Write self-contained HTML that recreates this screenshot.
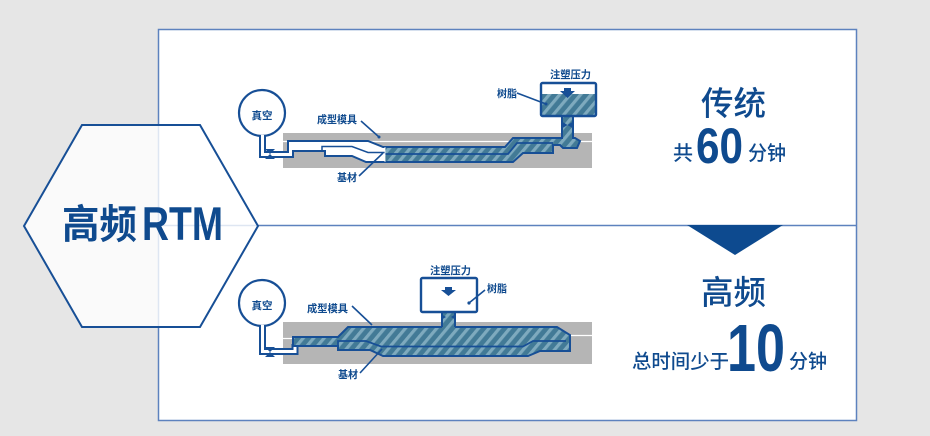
<!DOCTYPE html>
<html>
<head>
<meta charset="utf-8">
<style>
html,body{margin:0;padding:0;background:#e6e6e6;}
svg{display:block;}
text{font-family:"Liberation Sans","Noto Sans CJK SC",sans-serif;fill:#0f4a8e;}
.cj{font-family:"Noto Sans CJK SC","WenQuanYi Zen Hei",sans-serif;}
.lb{font-size:10.5px;font-weight:bold;}
</style>
</head>
<body>
<svg width="930" height="436" viewBox="0 0 930 436" xmlns="http://www.w3.org/2000/svg">
<defs>
  <pattern id="h" width="8" height="8" patternUnits="userSpaceOnUse" patternTransform="rotate(40)">
    <rect width="8" height="8" fill="#427a96"/>
    <rect x="0" width="3.2" height="8" fill="#7eaabe"/>
  </pattern>
  <clipPath id="c1"><polygon points="288,141 368,141 383,147 505,147 513,138 575,138 580,141 577,148 563,148 560,145 553,145 553,153 523,153 513,162 366,162 352,156 325,156 325,151 288,151"/></clipPath>
</defs>

<rect width="930" height="436" fill="#e6e6e6"/>
<!-- main box -->
<rect x="158.5" y="29.5" width="698" height="391" fill="#ffffff" stroke="#5d82be" stroke-width="1.5"/>
<line x1="158" y1="225.5" x2="857" y2="225.5" stroke="#5d82be" stroke-width="1.5"/>

<!-- triangle -->
<polygon points="687,225 783,225 735,255" fill="#0d4a8f"/>

<!-- hexagon -->
<polygon points="82,125 200,125 258,226 200,327 82,327 24,226" fill="rgba(255,255,255,0.8)" stroke="#174f96" stroke-width="2"/>
<text x="62" y="238" class="cj" font-size="40" font-weight="bold" textLength="75" lengthAdjust="spacingAndGlyphs">高频</text>
<text x="142" y="240" font-size="47" font-weight="bold" textLength="81" lengthAdjust="spacingAndGlyphs">RTM</text>

<!-- right texts top -->
<text x="701" y="115" class="cj" font-size="33" font-weight="500" textLength="65" lengthAdjust="spacingAndGlyphs">传统</text>
<text x="673" y="160" class="cj" font-size="20" font-weight="500">共</text>
<text x="696" y="163" font-size="50" font-weight="bold" textLength="47" lengthAdjust="spacingAndGlyphs">60</text>
<text x="748" y="160" class="cj" font-size="20" font-weight="500" textLength="38" lengthAdjust="spacingAndGlyphs">分钟</text>

<!-- right texts bottom -->
<text x="701" y="304" class="cj" font-size="33" font-weight="500" textLength="65" lengthAdjust="spacingAndGlyphs">高频</text>
<text x="632" y="368" class="cj" font-size="19.5" font-weight="500" textLength="97" lengthAdjust="spacingAndGlyphs">总时间少于</text>
<text x="727" y="371" font-size="67" font-weight="bold" textLength="58" lengthAdjust="spacingAndGlyphs">10</text>
<text x="789" y="368" class="cj" font-size="19.5" font-weight="500" textLength="38" lengthAdjust="spacingAndGlyphs">分钟</text>

<!-- ===== TOP DIAGRAM ===== -->
<rect x="283" y="133" width="309" height="35" fill="#b5b5b5"/>
<line x1="283" y1="141.5" x2="592" y2="141.5" stroke="#ffffff" stroke-width="1.2"/>
<!-- vacuum -->
<circle cx="262" cy="113" r="23" fill="#fff" stroke="#174f96" stroke-width="2.2"/>
<text x="262" y="119" class="cj lb" text-anchor="middle">真空</text>
<path d="M262.5,135 V154.5 H290.5 V146" fill="none" stroke="#174f96" stroke-width="7"/>
<!-- cavity -->
<polygon points="288,141 368,141 383,147 505,147 513,138 575,138 580,141 577,148 563,148 560,145 553,145 553,153 523,153 513,162 366,162 352,156 325,156 325,151 288,151" fill="#ffffff"/>
<rect x="385" y="130" width="220" height="40" fill="url(#h)" clip-path="url(#c1)"/>
<polygon points="288,141 368,141 383,147 505,147 513,138 575,138 580,141 577,148 563,148 560,145 553,145 553,153 523,153 513,162 366,162 352,156 325,156 325,151 288,151" fill="none" stroke="#174f96" stroke-width="2"/>
<path d="M262.5,135 V154.5 H290.5 V146" fill="none" stroke="#ffffff" stroke-width="3"/>
<polyline points="385,154 508,154 517,143 553,143" fill="none" stroke="#174f96" stroke-width="1.8"/>
<polyline points="322,151 322,146.5 352,146.5 368,152.5 385,152.5" fill="none" stroke="#174f96" stroke-width="1.5"/>
<line x1="385" y1="147" x2="385" y2="162" stroke="#ffffff" stroke-width="0.8"/>
<polygon points="265,149 275,149 270,154 275,159 265,159 270,154" fill="#174f96"/>
<!-- sprue & pot -->
<rect x="562" y="115" width="11" height="25" fill="url(#h)"/>
<line x1="562" y1="115" x2="562" y2="139" stroke="#174f96" stroke-width="2"/>
<line x1="573" y1="115" x2="573" y2="139" stroke="#174f96" stroke-width="2"/>
<polygon points="561,121 561,129 567.5,125" fill="#174f96"/>
<polygon points="574,121 574,129 567.5,125" fill="#174f96"/>
<rect x="541" y="83" width="55" height="33" rx="1.5" fill="#ffffff"/>
<rect x="541" y="94" width="55" height="22" fill="url(#h)"/>
<rect x="541" y="83" width="55" height="33" rx="1.5" fill="none" stroke="#174f96" stroke-width="2.4"/>
<polygon points="564,88 571,88 571,91 575,91 567.5,98 560,91 564,91" fill="#174f96"/>
<!-- labels -->
<text x="550" y="78" class="cj lb" textLength="41" lengthAdjust="spacingAndGlyphs">注塑压力</text>
<text x="497" y="97" class="cj lb" textLength="20" lengthAdjust="spacingAndGlyphs">树脂</text>
<line x1="517" y1="93" x2="546" y2="104" stroke="#174f96" stroke-width="1.6"/>
<circle cx="546" cy="104" r="1.5" fill="#174f96"/>
<text x="317" y="123" class="cj lb" textLength="40" lengthAdjust="spacingAndGlyphs">成型模具</text>
<line x1="361" y1="121" x2="379" y2="137" stroke="#174f96" stroke-width="1.6"/>
<circle cx="379" cy="137" r="1.5" fill="#174f96"/>
<text x="337" y="181" class="cj lb" textLength="20" lengthAdjust="spacingAndGlyphs">基材</text>
<line x1="359" y1="176" x2="383" y2="153" stroke="#174f96" stroke-width="1.6"/>

<!-- ===== BOTTOM DIAGRAM ===== -->
<rect x="283" y="322" width="309" height="42" fill="#b5b5b5"/>
<line x1="283" y1="338.5" x2="296" y2="338.5" stroke="#ffffff" stroke-width="1.2"/>
<line x1="568" y1="335.5" x2="592" y2="335.5" stroke="#ffffff" stroke-width="1.2"/>
<circle cx="262" cy="303" r="23" fill="#fff" stroke="#174f96" stroke-width="2.2"/>
<text x="262" y="309" class="cj lb" text-anchor="middle">真空</text>
<path d="M262.5,325 V351.5 H295 V344" fill="none" stroke="#174f96" stroke-width="7"/>
<polygon points="293,337 338,337 348,327 557,327 570,335 570,351 540,351 528,356 383,356 370,350 338,350 338,346 293,346" fill="url(#h)" stroke="#174f96" stroke-width="2"/>
<path d="M262.5,325 V351.5 H295 V347" fill="none" stroke="#ffffff" stroke-width="3"/>
<polyline points="338,346 338,341 366,341 381,346.5 523,346.5 533,341 566,341" fill="none" stroke="#174f96" stroke-width="1.8"/>
<polygon points="265,347 275,347 270,352 275,357 265,357 270,352" fill="#174f96"/>
<!-- sprue & pot -->
<rect x="442" y="311" width="13" height="17" fill="url(#h)"/>
<line x1="442" y1="311" x2="442" y2="327" stroke="#174f96" stroke-width="2"/>
<line x1="455" y1="311" x2="455" y2="327" stroke="#174f96" stroke-width="2"/>
<polygon points="441,314 441,320 446,317" fill="#174f96"/>
<polygon points="456,314 456,320 451,317" fill="#174f96"/>
<rect x="421" y="278" width="56" height="34" rx="1.5" fill="#ffffff" stroke="#174f96" stroke-width="2.4"/>
<polygon points="445,287 452,287 452,290 456,290 448.5,296 441,290 445,290" fill="#174f96"/>
<text x="430" y="274" class="cj lb" textLength="41" lengthAdjust="spacingAndGlyphs">注塑压力</text>
<text x="487" y="292" class="cj lb" textLength="20" lengthAdjust="spacingAndGlyphs">树脂</text>
<line x1="485" y1="290" x2="469" y2="303" stroke="#174f96" stroke-width="1.6"/>
<circle cx="469" cy="303" r="1.6" fill="#174f96"/>
<text x="307" y="312" class="cj lb" textLength="41" lengthAdjust="spacingAndGlyphs">成型模具</text>
<line x1="352" y1="306" x2="372" y2="325" stroke="#174f96" stroke-width="1.6"/>
<text x="338" y="378" class="cj lb" textLength="20" lengthAdjust="spacingAndGlyphs">基材</text>
<line x1="360" y1="373" x2="382" y2="349" stroke="#174f96" stroke-width="1.6"/>
</svg>
</body>
</html>
